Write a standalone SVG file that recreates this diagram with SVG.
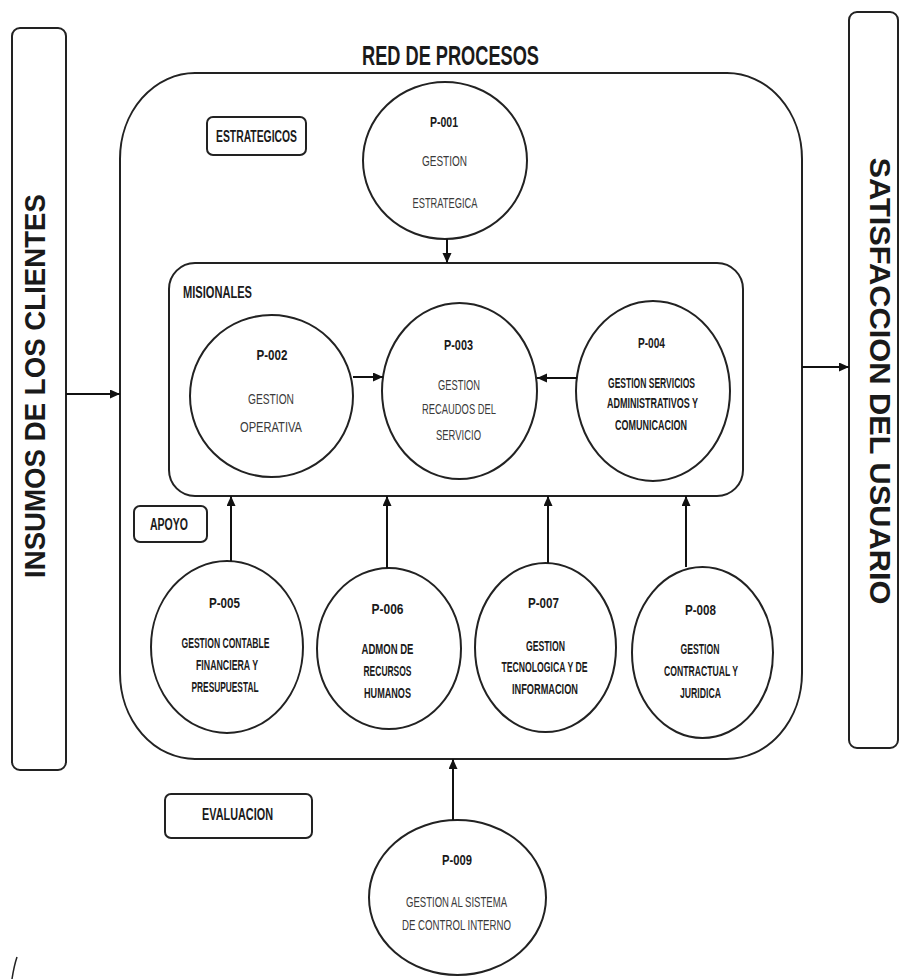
<svg xmlns="http://www.w3.org/2000/svg" width="901" height="979" viewBox="0 0 901 979">
<style>
  .shape { fill: none; stroke: #222; stroke-width: 2; }
  .box { fill: #fff; stroke: #222; stroke-width: 2; }
  .conn { fill: none; stroke: #111; stroke-width: 2; }
  text { font-family: "Liberation Sans Narrow", "Liberation Sans", Arial, sans-serif; fill: #1a1a1a; }
  .title { font-size: 28px; font-weight: bold; }
  .side { font-size: 30px; font-weight: bold; }
  .lbl { font-size: 16px; font-weight: bold; }
  .code { font-size: 15px; font-weight: bold; text-anchor: middle; }
  .desc { font-size: 15px; fill: #3a3a3a; text-anchor: middle; }
  .descb { font-size: 14px; font-weight: bold; text-anchor: middle; }
</style>
<defs>
  <marker id="arr" markerUnits="userSpaceOnUse" markerWidth="11" markerHeight="10" refX="10" refY="4.5" orient="auto">
    <path d="M0,0 L10,4.5 L0,9 z" fill="#111"/>
  </marker>
</defs>
<rect width="901" height="979" fill="#fff"/>

<text class="title" x="450.5" y="65" text-anchor="middle" textLength="177" lengthAdjust="spacingAndGlyphs">RED DE PROCESOS</text>

<g id="insumos">
  <rect class="box" x="12" y="28" width="54" height="742" rx="8"/>
  <text class="side" transform="translate(45,386) rotate(-90)" text-anchor="middle" textLength="384" lengthAdjust="spacingAndGlyphs">INSUMOS DE LOS CLIENTES</text>
</g>

<g id="satisfaccion">
  <rect class="box" x="849" y="12" width="49" height="736" rx="8"/>
  <text class="side" transform="translate(870,381) rotate(90)" text-anchor="middle" textLength="447" lengthAdjust="spacingAndGlyphs">SATISFACCION DEL USUARIO</text>
</g>

<g id="red-procesos">
  <rect class="shape" x="120" y="73" width="682" height="686" rx="75" ry="86"/>
</g>

<g id="estrategicos">
  <rect class="box" x="207" y="117" width="99" height="38" rx="6"/>
  <text class="lbl" x="256.5" y="142" text-anchor="middle" textLength="81" lengthAdjust="spacingAndGlyphs">ESTRATEGICOS</text>
</g>

<g id="misionales">
  <rect class="shape" x="169" y="263" width="574" height="233" rx="26"/>
  <text class="lbl" x="183" y="298" textLength="69" lengthAdjust="spacingAndGlyphs">MISIONALES</text>
</g>

<g id="apoyo">
  <rect class="box" x="134" y="506" width="73" height="36" rx="6"/>
  <text class="lbl" x="169" y="530" text-anchor="middle" textLength="38" lengthAdjust="spacingAndGlyphs">APOYO</text>
</g>

<g id="evaluacion">
  <rect class="box" x="165" y="794" width="147" height="44" rx="6"/>
  <text class="lbl" x="237.5" y="820" text-anchor="middle" textLength="71" lengthAdjust="spacingAndGlyphs">EVALUACION</text>
</g>

<g id="p001">
  <ellipse class="shape" cx="445" cy="160.5" rx="82" ry="78.5"/>
  <text class="code" x="444" y="127" textLength="28" lengthAdjust="spacingAndGlyphs">P-001</text>
  <text class="desc" x="444.5" y="166" textLength="45" lengthAdjust="spacingAndGlyphs">GESTION</text>
  <text class="desc" x="445" y="208" textLength="65" lengthAdjust="spacingAndGlyphs">ESTRATEGICA</text>
</g>

<g id="p002">
  <ellipse class="shape" cx="271.5" cy="396" rx="81.5" ry="81"/>
  <text class="code" x="272" y="360" textLength="31" lengthAdjust="spacingAndGlyphs">P-002</text>
  <text class="desc" x="271" y="404" textLength="46" lengthAdjust="spacingAndGlyphs">GESTION</text>
  <text class="desc" x="271" y="432" textLength="62" lengthAdjust="spacingAndGlyphs">OPERATIVA</text>
</g>

<g id="p003">
  <ellipse class="shape" cx="459.5" cy="391" rx="77.5" ry="88"/>
  <text class="code" x="458.5" y="350" textLength="29" lengthAdjust="spacingAndGlyphs">P-003</text>
  <text class="desc" x="459" y="390" textLength="42" lengthAdjust="spacingAndGlyphs">GESTION</text>
  <text class="desc" x="459" y="414" textLength="74" lengthAdjust="spacingAndGlyphs">RECAUDOS DEL</text>
  <text class="desc" x="458.5" y="440" textLength="45" lengthAdjust="spacingAndGlyphs">SERVICIO</text>
</g>

<g id="p004">
  <ellipse class="shape" cx="653" cy="391" rx="77" ry="90"/>
  <text class="code" x="651.5" y="348" textLength="27" lengthAdjust="spacingAndGlyphs">P-004</text>
  <text class="descb" x="651.5" y="388" textLength="87" lengthAdjust="spacingAndGlyphs">GESTION SERVICIOS</text>
  <text class="descb" x="652.5" y="408" textLength="91" lengthAdjust="spacingAndGlyphs">ADMINISTRATIVOS Y</text>
  <text class="descb" x="651" y="430" textLength="72" lengthAdjust="spacingAndGlyphs">COMUNICACION</text>
</g>

<g id="p005">
  <ellipse class="shape" cx="227" cy="647" rx="76" ry="86"/>
  <text class="code" x="224.5" y="608" textLength="31" lengthAdjust="spacingAndGlyphs">P-005</text>
  <text class="descb" x="225.5" y="648" textLength="88" lengthAdjust="spacingAndGlyphs">GESTION CONTABLE</text>
  <text class="descb" x="227" y="670" textLength="62" lengthAdjust="spacingAndGlyphs">FINANCIERA Y</text>
  <text class="descb" x="225" y="692" textLength="67" lengthAdjust="spacingAndGlyphs">PRESUPUESTAL</text>
</g>

<g id="p006">
  <ellipse class="shape" cx="389" cy="648.5" rx="72" ry="80.5"/>
  <text class="code" x="387.5" y="614" textLength="32" lengthAdjust="spacingAndGlyphs">P-006</text>
  <text class="descb" x="387.5" y="654" textLength="52" lengthAdjust="spacingAndGlyphs">ADMON DE</text>
  <text class="descb" x="387.5" y="676" textLength="48" lengthAdjust="spacingAndGlyphs">RECURSOS</text>
  <text class="descb" x="387.5" y="698" textLength="47" lengthAdjust="spacingAndGlyphs">HUMANOS</text>
</g>

<g id="p007">
  <ellipse class="shape" cx="545.5" cy="647.5" rx="70.5" ry="84.5"/>
  <text class="code" x="543.5" y="608" textLength="31" lengthAdjust="spacingAndGlyphs">P-007</text>
  <text class="descb" x="545.5" y="651" textLength="39" lengthAdjust="spacingAndGlyphs">GESTION</text>
  <text class="descb" x="544.5" y="672" textLength="86" lengthAdjust="spacingAndGlyphs">TECNOLOGICA Y DE</text>
  <text class="descb" x="545" y="694" textLength="66" lengthAdjust="spacingAndGlyphs">INFORMACION</text>
</g>

<g id="p008">
  <ellipse class="shape" cx="702.5" cy="652.5" rx="70.5" ry="85.5"/>
  <text class="code" x="700.5" y="615" textLength="31" lengthAdjust="spacingAndGlyphs">P-008</text>
  <text class="descb" x="700" y="654" textLength="39" lengthAdjust="spacingAndGlyphs">GESTION</text>
  <text class="descb" x="701" y="676" textLength="74" lengthAdjust="spacingAndGlyphs">CONTRACTUAL Y</text>
  <text class="descb" x="700.5" y="698" textLength="41" lengthAdjust="spacingAndGlyphs">JURIDICA</text>
</g>

<g id="p009">
  <ellipse class="shape" cx="457.5" cy="897.5" rx="88.5" ry="77.5"/>
  <text class="code" x="457" y="865" textLength="30" lengthAdjust="spacingAndGlyphs">P-009</text>
  <text class="desc" x="456.5" y="907" textLength="101" lengthAdjust="spacingAndGlyphs">GESTION AL SISTEMA</text>
  <text class="desc" x="456.5" y="930" textLength="109" lengthAdjust="spacingAndGlyphs">DE CONTROL INTERNO</text>
</g>

<g id="connectors">
  <line class="conn" x1="66" y1="394" x2="120" y2="394" marker-end="url(#arr)"/>
  <line class="conn" x1="802" y1="367" x2="849" y2="367" marker-end="url(#arr)"/>
  <line class="conn" x1="447" y1="239" x2="447" y2="263" marker-end="url(#arr)"/>
  <line class="conn" x1="353" y1="377" x2="383" y2="377" marker-end="url(#arr)"/>
  <line class="conn" x1="577" y1="378" x2="537" y2="378" marker-end="url(#arr)"/>
  <line class="conn" x1="231" y1="561" x2="231" y2="496" marker-end="url(#arr)"/>
  <line class="conn" x1="387" y1="568" x2="387" y2="496" marker-end="url(#arr)"/>
  <line class="conn" x1="548" y1="563" x2="548" y2="496" marker-end="url(#arr)"/>
  <line class="conn" x1="686" y1="567" x2="686" y2="496" marker-end="url(#arr)"/>
  <line class="conn" x1="453" y1="820" x2="453" y2="759" marker-end="url(#arr)"/>
</g>

<path d="M17,957 Q14,966 12,979" fill="none" stroke="#222" stroke-width="1.5"/>
</svg>
